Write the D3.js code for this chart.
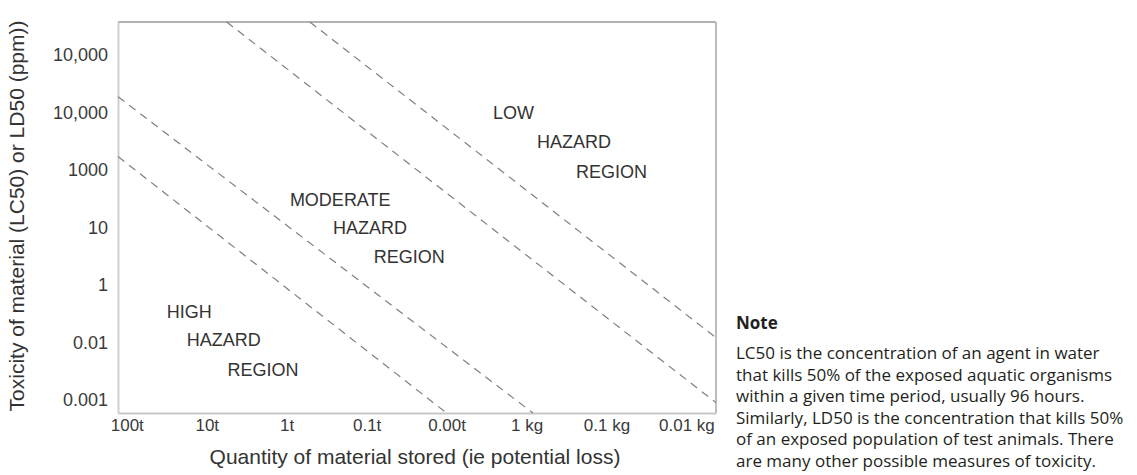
<!DOCTYPE html>
<html>
<head>
<meta charset="utf-8">
<script src="https://cdn.jsdelivr.net/npm/d3@7"></script>
<style>
  body { margin: 0; background: #fff; }
  svg { display: block; }
  .axis text { font-family: "Liberation Sans", Arial, sans-serif; fill: #3a3a3a; }
  .region { font-family: "Liberation Sans", Arial, sans-serif; font-size: 18px; fill: #333; }
  .title { font-family: "Liberation Sans", Arial, sans-serif; font-size: 21px; fill: #333; }
  .note { font-family: "Open Sans", sans-serif; fill: #231f20; }
</style>
</head>
<body>
<svg id="chart" width="1137" height="475"></svg>
<script>
// tick labels as printed on the original chart
const xLabels = ["100t", "10t", "1t", "0.1t", "0.00t", "1 kg", "0.1 kg", "0.01 kg"];
const yLabels = ["10,000", "10,000", "1000", "10", "1", "0.01", "0.001"];

// hazard boundaries, in tick-index units [x, y]
const boundaryA = [[-0.11, 0.73], [5.08, 6.23]];
const boundaryB = [[-0.11, 1.77], [4.00, 6.23]];
const boundaryC = [[1.25, -0.57], [7.37, 6.05]];
const boundaryD = [[2.29, -0.57], [7.37, 4.92]];

// region labels, one entry per text line, anchored at [x, y] in tick-index units
const highRegion = [["HIGH", 0.50, 4.47], ["HAZARD", 0.75, 4.96], ["REGION", 1.26, 5.48]];
const moderateRegion = [["MODERATE", 2.04, 2.52], ["HAZARD", 2.58, 3.01], ["REGION", 3.09, 3.51]];
const lowRegion = [["LOW", 4.58, 1.01], ["HAZARD", 5.13, 1.51], ["REGION", 5.62, 2.03]];

const noteTitle = "Note";
const noteLines = [
    "LC50 is the concentration of an agent in water",
    "that kills 50% of the exposed aquatic organisms",
    "within a given time period, usually 96 hours.",
    "Similarly, LD50 is the concentration that kills 50%",
    "of an exposed population of test animals. There",
    "are many other possible measures of toxicity."
];

const svg = d3.select("#chart");

// plot frame in pixels
const frame = { left: 118, right: 716, top: 22, bottom: 413 };

const x = d3.scaleLinear().domain([-0.11, 7.37]).range([frame.left, frame.right]);
const y = d3.scaleLinear().domain([-0.57, 6.23]).range([frame.top, frame.bottom]);

// frame: top and right edges
svg.append("line")
    .attr("x1", frame.left).attr("x2", frame.right)
    .attr("y1", frame.top).attr("y2", frame.top)
    .attr("stroke", "#999").attr("stroke-width", 1.6);
svg.append("line")
    .attr("x1", frame.right).attr("x2", frame.right)
    .attr("y1", frame.top).attr("y2", frame.bottom)
    .attr("stroke", "#bdbdbd").attr("stroke-width", 2);

// axes
const xAxis = svg.append("g")
    .attr("class", "axis")
    .attr("transform", `translate(0,${frame.bottom})`)
    .call(d3.axisBottom(x)
        .tickValues(d3.range(xLabels.length))
        .tickFormat(i => xLabels[i])
        .tickSize(0)
        .tickPadding(6));
xAxis.select(".domain").attr("stroke", "#c8c8c8").attr("stroke-width", 2);
xAxis.selectAll("text").style("font-size", "17px");

const yAxis = svg.append("g")
    .attr("class", "axis")
    .attr("transform", `translate(${frame.left},0)`)
    .call(d3.axisLeft(y)
        .tickValues(d3.range(yLabels.length))
        .tickFormat(i => yLabels[i])
        .tickSize(0)
        .tickPadding(10));
yAxis.select(".domain").attr("stroke", "#d0d0d0").attr("stroke-width", 2);
yAxis.selectAll("text").style("font-size", "18px");

// axis titles
svg.append("text")
    .attr("class", "title")
    .attr("x", 415)
    .attr("y", 457)
    .attr("dy", "0.35em")
    .attr("text-anchor", "middle")
    .text("Quantity of material stored (ie potential loss)");

svg.append("text")
    .attr("class", "title")
    .attr("transform", "translate(17,216) rotate(-90)")
    .attr("dy", "0.35em")
    .attr("text-anchor", "middle")
    .text("Toxicity of material (LC50) or LD50 (ppm))");

// dashed boundaries
const line = d3.line().x(d => x(d[0])).y(d => y(d[1]));
[boundaryA, boundaryB, boundaryC, boundaryD].forEach(b => {
    svg.append("path")
        .attr("d", line(b))
        .attr("fill", "none")
        .attr("stroke", "#7f7f7f")
        .attr("stroke-width", 1.2)
        .attr("stroke-dasharray", "8,6");
});

// region labels
[highRegion, moderateRegion, lowRegion].forEach(r => {
    svg.selectAll(null)
        .data(r)
        .enter()
        .append("text")
          .attr("class", "region")
          .attr("x", d => x(d[1]))
          .attr("y", d => y(d[2]))
          .attr("dy", "0.35em")
          .text(d => d[0]);
});

// note
const note = svg.append("g").attr("transform", "translate(736,0)");
note.append("text")
    .attr("class", "note")
    .attr("y", 323)
    .attr("dy", "0.35em")
    .style("font-size", "17px")
    .style("font-weight", "bold")
    .text(noteTitle);
note.selectAll(".line")
    .data(noteLines)
    .enter()
    .append("text")
      .attr("class", "note line")
      .attr("y", (d, i) => 353 + i * 21.6)
      .attr("dy", "0.35em")
      .style("font-size", "17px")
      .text(d => d);
</script>
</body>
</html>
